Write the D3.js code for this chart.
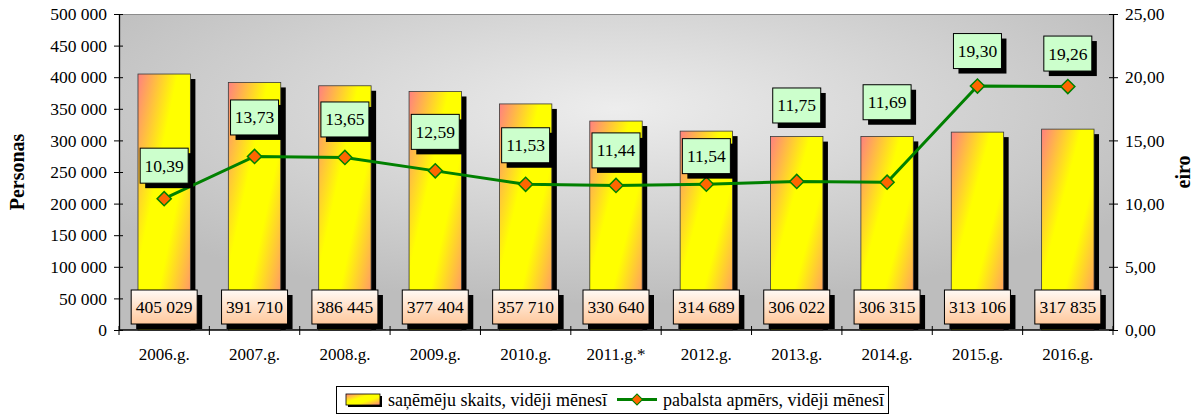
<!DOCTYPE html>
<html><head><meta charset="utf-8">
<script src="https://cdn.jsdelivr.net/npm/d3@7"></script>
<style>
body{margin:0;background:#fff}
svg{display:block}
text{font-family:"Liberation Serif","Times New Roman",serif;fill:#000}
</style>
</head><body>
<svg id="c" width="1199" height="416"></svg>
<script>
// ---- data ----
const categories = ["2006.g.","2007.g.","2008.g.","2009.g.","2010.g.","2011.g.*","2012.g.","2013.g.","2014.g.","2015.g.","2016.g."];
const recipients = [405029,391710,386445,377404,357710,330640,314689,306022,306315,313106,317835];
const benefit = [10.39,13.73,13.65,12.59,11.53,11.44,11.54,11.75,11.69,19.30,19.26];
const leftTicks = [0,50000,100000,150000,200000,250000,300000,350000,400000,450000,500000];
const rightTicks = [0,5,10,15,20,25];
const seriesNames = ["saņēmēju skaits, vidēji mēnesī","pabalsta apmērs, vidēji mēnesī"];
const axisTitles = ["Personas","eiro"];
// label placement (pixels above point), layout only
const labelDy = [-33,-39,-38,-39,-39,-35,-28,-76,-80,-35,-33];

// ---- layout ----
const L = 119, R = 1113, T = 14, B = 330;
const svg = d3.select("#c");
const defs = svg.append("defs");

const bg = defs.append("radialGradient").attr("id","bg").attr("cx","0.5").attr("cy","0.3").attr("r","0.62");
bg.append("stop").attr("offset","0").attr("stop-color","#ededed");
bg.append("stop").attr("offset","1").attr("stop-color","#bdbdbd");

const bar = defs.append("linearGradient").attr("id","bar").attr("x1","0").attr("y1","0").attr("x2","1").attr("y2","1");
bar.append("stop").attr("offset","0").attr("stop-color","#ff8080");
bar.append("stop").attr("offset","0.38").attr("stop-color","#ffff00");
bar.append("stop").attr("offset","0.62").attr("stop-color","#ffff00");
bar.append("stop").attr("offset","1").attr("stop-color","#ff8080");

const vb = defs.append("linearGradient").attr("id","vb").attr("x1","0").attr("y1","0").attr("x2","0").attr("y2","1");
vb.append("stop").attr("offset","0").attr("stop-color","#fffaf5");
vb.append("stop").attr("offset","1").attr("stop-color","#ffc89c");

const x = d3.scaleBand().domain(categories).range([L,R]).paddingInner(0.42).paddingOuter(0.21);
const yL = d3.scaleLinear().domain([0,500000]).range([B,T]);
const yR = d3.scaleLinear().domain([0,25]).range([B,T]);
const cx = c => x(c) + x.bandwidth()/2;

// plot background
svg.append("rect").attr("x",L).attr("y",T).attr("width",R-L).attr("height",B-T).attr("fill","url(#bg)");
svg.append("line").attr("x1",L).attr("x2",R).attr("y1",T+0.5).attr("y2",T+0.5).attr("stroke","#8c8c8c").attr("stroke-width",1);

// bars
const bw = x.bandwidth();
const bars = svg.append("g");
categories.forEach((c,i)=>{
  const y = yL(recipients[i]);
  bars.append("rect").attr("x",x(c)+5).attr("y",y+5).attr("width",bw).attr("height",B-y-5).attr("fill","#000");
  bars.append("rect").attr("x",x(c)).attr("y",y).attr("width",bw).attr("height",B-y)
    .attr("fill","url(#bar)").attr("stroke","#3a3a3a").attr("stroke-width",0.8);
});

// bar value labels
const fmtInt = v => d3.format(",")(v).replace(/,/g," ");
const vbw = 66, vbh = 34;
categories.forEach((c,i)=>{
  const mx = cx(c), my = yL(0) - 23;
  bars.append("rect").attr("x",mx-vbw/2+5).attr("y",my-vbh/2+5).attr("width",vbw).attr("height",vbh).attr("fill","#000");
  bars.append("rect").attr("x",mx-vbw/2).attr("y",my-vbh/2).attr("width",vbw).attr("height",vbh)
    .attr("fill","url(#vb)").attr("stroke","#000").attr("stroke-width",1);
  bars.append("text").attr("x",mx).attr("y",my+6).attr("text-anchor","middle").attr("font-size","17.5px").text(fmtInt(recipients[i]));
});

// axes
const axL = svg.append("g").attr("transform",`translate(${L},0)`)
  .call(d3.axisLeft(yL).tickValues(leftTicks).tickSize(5).tickSizeOuter(0).tickPadding(7).tickFormat(fmtInt));
axL.selectAll(".tick line").attr("x1",4).attr("stroke","#000");
axL.select(".domain").attr("stroke","#000").attr("stroke-width",1.3);
axL.selectAll("text").attr("font-size","17.5px").attr("font-family","Liberation Serif");

const fmtDec = v => d3.format(".2f")(v).replace(".",",");
const axR = svg.append("g").attr("transform",`translate(${R},0)`)
  .call(d3.axisRight(yR).tickValues(rightTicks).tickSize(5).tickSizeOuter(0).tickPadding(7).tickFormat(fmtDec));
axR.selectAll(".tick line").attr("x1",-4).attr("stroke","#000");
axR.select(".domain").attr("stroke","#000").attr("stroke-width",1.3);
axR.selectAll("text").attr("font-size","17.5px").attr("font-family","Liberation Serif");

// x axis
const axB = svg.append("g");
axB.append("line").attr("x1",L).attr("x2",R).attr("y1",B).attr("y2",B).attr("stroke","#000").attr("stroke-width",1.3);
const step = x.step();
d3.range(categories.length+1).forEach(k=>{
  const xx = L + k*step;
  axB.append("line").attr("x1",xx).attr("x2",xx).attr("y1",B-4).attr("y2",B+5).attr("stroke","#000");
});
categories.forEach(c=>{
  axB.append("text").attr("x",cx(c)).attr("y",B+30).attr("text-anchor","middle").attr("font-size","17px").text(c);
});

// axis titles
svg.append("text").attr("transform",`translate(24,${(T+B)/2}) rotate(-90)`).attr("text-anchor","middle")
  .attr("font-size","20px").attr("font-weight","bold").text(axisTitles[0]);
svg.append("text").attr("transform",`translate(1190,${(T+B)/2}) rotate(-90)`).attr("text-anchor","middle")
  .attr("font-size","20px").attr("font-weight","bold").text(axisTitles[1]);

// line series
const line = d3.line().x((d,i)=>cx(categories[i])).y(d=>yR(d));
svg.append("path").datum(benefit).attr("d",line).attr("fill","none").attr("stroke","#008000").attr("stroke-width",3);
svg.append("g").selectAll("path").data(benefit).join("path")
  .attr("d",d3.symbol().type(d3.symbolSquare).size(100)())
  .attr("transform",(d,i)=>`translate(${cx(categories[i])},${yR(d)}) rotate(45)`)
  .attr("fill","#ff6600").attr("stroke","#008000").attr("stroke-width",1.5);

// line labels
const lbw = 48, lbh = 35;
const lg = svg.append("g");
benefit.forEach((v,i)=>{
  const mx = cx(categories[i]), my = yR(v) + labelDy[i];
  lg.append("rect").attr("x",mx-lbw/2+5).attr("y",my-lbh/2+5).attr("width",lbw).attr("height",lbh).attr("fill","#000");
  lg.append("rect").attr("x",mx-lbw/2).attr("y",my-lbh/2).attr("width",lbw).attr("height",lbh)
    .attr("fill","#ccffcc").attr("stroke","#000").attr("stroke-width",1);
  lg.append("text").attr("x",mx).attr("y",my+6).attr("text-anchor","middle").attr("font-size","17.5px").text(fmtDec(v));
});

// legend
const leg = svg.append("g");
leg.append("rect").attr("x",336.5).attr("y",386.5).attr("width",552).attr("height",27).attr("fill","#fff").attr("stroke","#000").attr("stroke-width",1);
leg.append("rect").attr("x",348).attr("y",396).attr("width",34).attr("height",11).attr("fill","#000");
leg.append("rect").attr("x",346).attr("y",394).attr("width",34).attr("height",11).attr("fill","url(#bar)").attr("stroke","#000").attr("stroke-width",0.8);
leg.append("text").attr("x",388).attr("y",405.5).attr("font-size","18px").text(seriesNames[0]);
leg.append("line").attr("x1",617).attr("x2",657).attr("y1",399.5).attr("y2",399.5).attr("stroke","#008000").attr("stroke-width",3);
leg.append("path").attr("d",d3.symbol().type(d3.symbolSquare).size(60)()).attr("transform","translate(637,399.5) rotate(45)")
  .attr("fill","#ff6600").attr("stroke","#008000").attr("stroke-width",1.2);
leg.append("text").attr("x",663).attr("y",405.5).attr("font-size","18px").text(seriesNames[1]);
</script>
</body></html>
